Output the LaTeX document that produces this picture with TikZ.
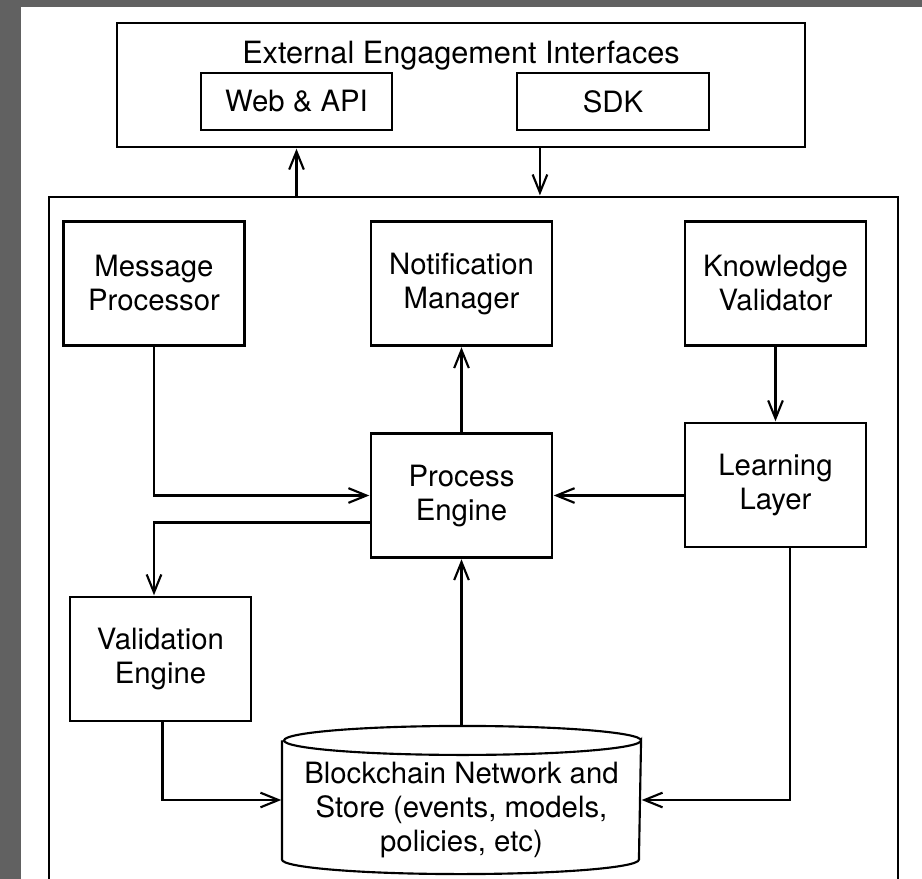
\documentclass[tikz,border=0pt]{standalone}
\usepackage{fontspec}
\setmainfont{TeX Gyre Heros}
\usetikzlibrary{arrows.meta}
\definecolor{sidegray}{RGB}{97,97,97}

\begin{document}
\begin{tikzpicture}[x=0.75pt,y=-0.75pt,>={Straight Barb[length=13.5pt,width=11pt]},
                    line width=1.6pt, font=\fontsize{22}{25.5}\selectfont]
  \tikzstyle{block}=[draw=black,fill=white,align=center,minimum width=135.75pt,
                     minimum height=93pt,inner sep=2pt]
  \tikzstyle{frame}=[draw=black,inner sep=0pt]
  \tikzstyle{flow}=[->,shorten >=0.5pt]

  \useasboundingbox (0,0) rectangle (922,879);
  \clip (0,0) rectangle (922,879);
  \fill[sidegray] (0,0) rectangle (922,879);
  \fill[white] (21,7) rectangle (922,879);

  % outer frames
  \node[frame,minimum width=516pt,minimum height=93pt] (ext) at (461,85) {};
  \node[anchor=base,font=\fontsize{23}{26}\selectfont] (title) at (461,63) {External Engagement Interfaces};
  \node[frame,minimum width=143.25pt,minimum height=42.75pt] (web) at (296.5,101.5) {Web \& API};
  \node[frame,minimum width=144pt,minimum height=42.75pt] (sdk) at (613,101.5) {SDK};
  \node[frame,minimum width=636.75pt,minimum height=600pt,anchor=north] (core) at (473.5,196) {};

  \node[block] (mp) at (154,283.5)   {Message\\Processor};
  \node[block] (nm) at (461.5,283.5) {Notification\\Manager};
  \node[block] (kv) at (775.5,283.5) {Knowledge\\Validator};
  \node[block] (pe) at (461.5,495.5) {Process\\Engine};
  \node[block] (ll) at (775.5,485)   {Learning\\Layer};
  \node[block] (ve) at (160.5,659)   {Validation\\Engine};
  \node[minimum width=267.75pt,minimum height=109.5pt,inner sep=0pt] (store) at (461.5,800) {};
  \node[align=center] (storetext) at ([yshift=-7.5pt]store.center)
       {Blockchain Network and\\Store (events, models,\\policies, etc)};

  % cylinder outline of the store
  \draw ([yshift=-10.875pt]store.north west) -- ([yshift=10.875pt]store.south west)
        arc[start angle=180,end angle=0,x radius=178.5,y radius=14.5]
        -- ([yshift=-10.875pt]store.north east)
        arc[start angle=0,end angle=360,x radius=178.5,y radius=14.5];

  \draw[flow] (mp.south) |- (pe.west);
  \draw[flow] (pe.north) -- (nm.south);
  \draw[flow] (kv.south) -- (ll.north);
  \draw[flow] (ll.west |- pe.east) -- (pe.east);
  \draw[flow] (store.north) -- (pe.south);
  \draw[flow] ([yshift=-20.25pt]pe.west) -| (mp.south |- ve.north);
  \draw[flow] ([xshift=1.5pt]ve.south) |- (store.west);
  \draw[flow] ([xshift=11pt]ll.south) |- (store.east);

  % links to the outside
  \coordinate (up) at (web.south);
  \coordinate (down) at ([xshift=18pt]sdk.west);
  \draw[flow] (core.north -| up) -- (ext.south -| up);
  \draw[flow] (ext.south -| down) -- (core.north -| down);
\end{tikzpicture}
\end{document}
